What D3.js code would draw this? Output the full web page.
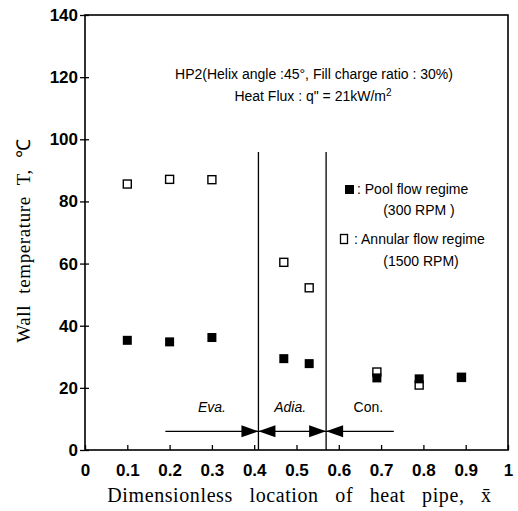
<!DOCTYPE html>
<html>
<head>
<meta charset="utf-8">
<script src="https://cdn.jsdelivr.net/npm/d3@7"></script>
<style>
  body { margin: 0; background: #fff; }
  svg { display: block; }
</style>
</head>
<body>
<div id="chart"></div>
<script>
// data
const locations = [0.1, 0.2, 0.3, 0.47, 0.53, 0.69, 0.79, 0.89];
const poolTemps = [35.3, 34.8, 36.2, 29.4, 27.8, 23.2, 22.9, 23.3];
const annularTemps = [85.6, 87.1, 87.0, 60.4, 52.2, 25.1, 20.9, 23.4];
const xTicks = [0, 0.1, 0.2, 0.3, 0.4, 0.5, 0.6, 0.7, 0.8, 0.9, 1];
const yTicks = [0, 20, 40, 60, 80, 100, 120, 140];
const sectionBounds = [0.41, 0.57];
const sectionNames = ["Eva.", "Adia.", "Con."];
const sectionCenters = [0.3, 0.485, 0.67];
const arrowSpan = [0.19, 0.73];
const arrowLevel = 6;

const width = 518, height = 511;
const margin = { top: 15, right: 10, bottom: 61, left: 85 };

const svg = d3.select("#chart").append("svg")
    .attr("width", width)
    .attr("height", height);

const x = d3.scaleLinear().domain([0, 1]).range([margin.left, width - margin.right]);
const y = d3.scaleLinear().domain([0, 140]).range([height - margin.bottom, margin.top]);

const sans = "'Liberation Sans', Arial, sans-serif";
const serif = "'Liberation Serif', 'Times New Roman', serif";

// frame
svg.append("rect")
    .attr("x", x(0)).attr("y", y(140))
    .attr("width", x(1) - x(0)).attr("height", y(0) - y(140))
    .attr("fill", "none").attr("stroke", "#000").attr("stroke-width", 1.6);

// axes
const xAxis = svg.append("g")
    .attr("transform", `translate(0,${y(0)})`)
    .call(d3.axisBottom(x).tickValues(xTicks).tickSizeInner(-5).tickSizeOuter(0)
        .tickPadding(14).tickFormat(d => d === 0 ? "0" : d === 1 ? "1" : d3.format(".1f")(d)));
xAxis.select(".domain").remove();

const yAxis = svg.append("g")
    .attr("transform", `translate(${x(0)},0)`)
    .call(d3.axisLeft(y).tickValues(yTicks).tickSizeInner(5).tickSizeOuter(0).tickPadding(2));
yAxis.select(".domain").remove();
yAxis.selectAll(".tick line").attr("x2", 4).attr("x1", -5);

svg.selectAll(".tick line").attr("stroke", "#000").attr("stroke-width", 1.3);
svg.selectAll(".tick text")
    .attr("fill", "#000")
    .style("font-family", sans)
    .style("font-size", "17px")
    .style("font-weight", "bold");

// axis titles
svg.append("text")
    .attr("transform", `translate(30,${(y(0) + y(140)) / 2 + 8}) rotate(-90)`)
    .attr("text-anchor", "middle")
    .style("font-family", serif)
    .style("font-size", "19px")
    .style("letter-spacing", "0.6px")
    .style("word-spacing", "6px")
    .text("Wall temperature T, \u2103");

svg.append("text")
    .attr("x", (x(0) + x(1)) / 2 + 3)
    .attr("y", 502)
    .attr("text-anchor", "middle")
    .style("font-family", serif)
    .style("font-size", "20px")
    .style("letter-spacing", "0.6px")
    .style("word-spacing", "11px")
    .text("Dimensionless location of heat pipe, x\u0304");

// section boundaries
svg.selectAll(".bound")
    .data(sectionBounds)
    .join("line")
    .attr("class", "bound")
    .attr("x1", d => x(d)).attr("x2", d => x(d))
    .attr("y1", 152).attr("y2", y(0))
    .attr("stroke", "#000").attr("stroke-width", 1.3);

// section labels
svg.selectAll(".sec")
    .data(sectionNames)
    .join("text")
    .attr("class", "sec")
    .attr("x", (d, i) => x(sectionCenters[i]))
    .attr("y", y(12.3))
    .attr("text-anchor", "middle")
    .style("font-family", sans)
    .style("font-size", "14px")
    .style("font-style", (d, i) => i < 2 ? "italic" : "normal")
    .text(d => d);

// arrow line with heads meeting at each boundary
svg.append("line")
    .attr("x1", x(arrowSpan[0])).attr("x2", x(arrowSpan[1]))
    .attr("y1", y(arrowLevel)).attr("y2", y(arrowLevel))
    .attr("stroke", "#000").attr("stroke-width", 1.2);

const ay = y(arrowLevel);
sectionBounds.forEach(b => {
    const bx = x(b);
    svg.append("path")
        .attr("d", `M${bx},${ay} L${bx - 17},${ay - 6} L${bx - 17},${ay + 6} Z`)
        .attr("fill", "#000");
    svg.append("path")
        .attr("d", `M${bx},${ay} L${bx + 17},${ay - 6} L${bx + 17},${ay + 6} Z`)
        .attr("fill", "#000");
});

// data markers
const sz = 8;
const annular = locations.map((d, i) => ({ x: d, y: annularTemps[i] }));
const pool = locations.map((d, i) => ({ x: d, y: poolTemps[i] }));

svg.selectAll(".annular")
    .data(annular)
    .join("rect")
    .attr("class", "annular")
    .attr("x", d => x(d.x) - sz / 2).attr("y", d => y(d.y) - sz / 2)
    .attr("width", sz).attr("height", sz)
    .attr("fill", "#fff").attr("stroke", "#000").attr("stroke-width", 1.4);

svg.selectAll(".pool")
    .data(pool)
    .join("rect")
    .attr("class", "pool")
    .attr("x", d => x(d.x) - sz / 2 - 0.5).attr("y", d => y(d.y) - sz / 2 - 0.5)
    .attr("width", sz + 1).attr("height", sz + 1)
    .attr("fill", "#000");

// header text
const header = svg.append("g")
    .style("font-family", sans)
    .style("font-size", "14px");

header.append("text")
    .attr("x", 314).attr("y", 79)
    .attr("text-anchor", "middle")
    .text("HP2(Helix angle :45\u00b0,  Fill charge ratio : 30%)");

const hf = header.append("text")
    .attr("x", 313).attr("y", 101)
    .attr("text-anchor", "middle");
hf.append("tspan").text("Heat Flux : q\" = 21kW/m");
hf.append("tspan").attr("dy", -5).style("font-size", "10px").text("2");

// legend
const legend = svg.append("g")
    .style("font-family", sans)
    .style("font-size", "14px");

legend.append("rect")
    .attr("x", 345).attr("y", 185).attr("width", 9).attr("height", 9)
    .attr("fill", "#000");
legend.append("text").attr("x", 357).attr("y", 194).text(": Pool flow regime");
legend.append("text").attr("x", 419).attr("y", 215).attr("text-anchor", "middle").text("(300 RPM )");

legend.append("rect")
    .attr("x", 340.5).attr("y", 234.5).attr("width", 7).attr("height", 9)
    .attr("fill", "#fff").attr("stroke", "#000").attr("stroke-width", 1.3);
legend.append("text").attr("x", 354).attr("y", 244).text(": Annular flow regime");
legend.append("text").attr("x", 421).attr("y", 266).attr("text-anchor", "middle").text("(1500 RPM)");
</script>
</body>
</html>
